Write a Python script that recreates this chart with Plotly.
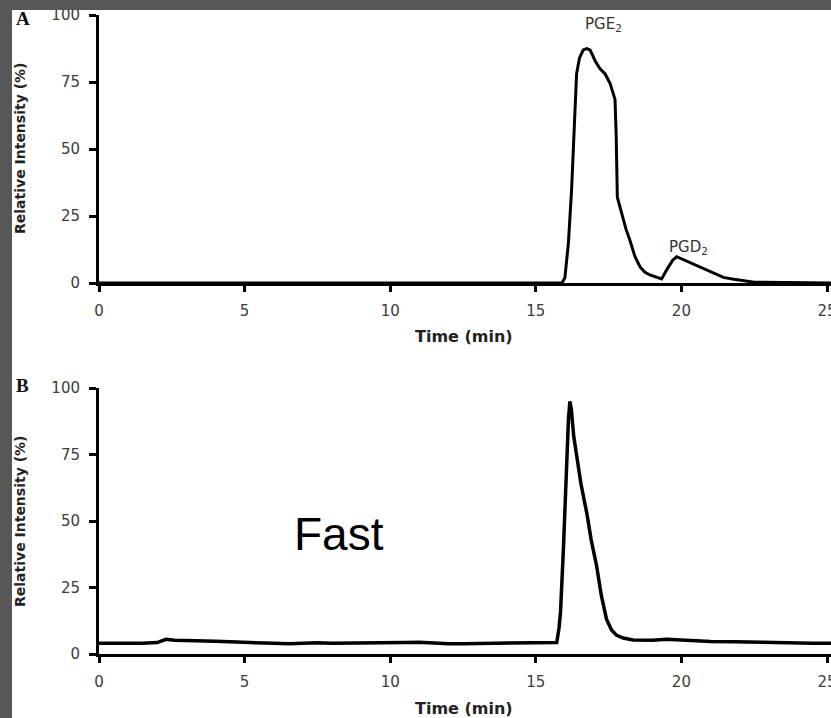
import plotly.graph_objects as go

# ---- Panel A data (PGE2 / PGD2 chromatogram) ----
a_time = [0, 15.9, 16.0, 16.12, 16.23, 16.32, 16.4, 16.5, 16.63, 16.75, 16.86, 16.95,
          17.03, 17.2, 17.38, 17.55, 17.72, 17.76, 17.8, 17.95, 18.1, 18.23, 18.4,
          18.58, 18.75, 18.92, 19.1, 19.32, 19.5, 19.7, 19.84, 20.0, 20.3, 20.64,
          21.0, 21.44, 21.8, 22.13, 22.5, 25.14]
a_int = [0, 0, 2, 15, 35, 60, 78, 84, 87, 87.5, 87, 85,
         83, 80, 78, 74.5, 68.5, 55, 32, 26, 20, 16, 10,
         6, 4, 3, 2.2, 1.5, 5, 8.5, 9.8, 9, 7.6, 6,
         4.2, 2.1, 1.4, 1, 0.3, 0]

# ---- Panel B data (SEP chromatogram) ----
b_time = [0, 0.5, 1.0, 1.5, 2.0, 2.3, 2.6, 3.0, 3.5, 4.0, 4.5, 5.0, 5.5, 6.0, 6.5,
          7.0, 7.5, 8.0, 8.5, 9.0, 9.5, 10.0, 10.5, 11.0, 11.5, 12.0, 12.5, 13.0,
          13.5, 14.0, 14.5, 15.0, 15.5, 15.72, 15.8, 15.85, 15.95, 16.06, 16.12,
          16.17, 16.22, 16.3, 16.4, 16.55, 16.75, 16.9, 17.09, 17.25, 17.43, 17.6,
          17.78, 18.0, 18.34, 19.0, 19.5, 20.0, 20.5, 21.0, 21.8, 22.5, 23.0, 23.5,
          24.0, 24.5, 25.14]
b_int = [4.0, 4.0, 3.9, 4.0, 4.3, 5.5, 5.2, 5.0, 4.9, 4.8, 4.6, 4.3, 4.1, 4.0, 3.9,
         4.1, 4.2, 4.0, 4.0, 4.1, 4.0, 4.1, 4.3, 4.4, 4.0, 3.9, 3.9, 4.0,
         4.0, 4.0, 4.1, 4.1, 4.2, 4.3, 10, 16, 40, 73, 88,
         95, 92, 82, 75, 64, 53, 43, 33, 22, 13, 9,
         7, 6, 5.3, 5.2, 5.5, 5.2, 4.9, 4.7, 4.6, 4.4, 4.2, 4.3,
         4.1, 4.0, 4.0]

x_ticks = [0, 5, 10, 15, 20, 25]
y_ticks = [0, 25, 50, 75, 100]
y_title = "Relative Intensity (%)"
x_title = "Time (min)"

W, H = 831, 718
L, R, T, B = 99, 0, 15, 64
pw, ph = W - L - R, H - T - B


def px2paper(px, py):
    return (px - L) / pw, (H - B - py) / ph


fig = go.Figure()
fig.add_trace(go.Scatter(x=a_time, y=a_int, mode="lines", xaxis="x", yaxis="y",
                         line=dict(color="black", width=3), showlegend=False))
fig.add_trace(go.Scatter(x=b_time, y=b_int, mode="lines", xaxis="x2", yaxis="y2",
                         line=dict(color="black", width=3.5), showlegend=False))

tickfont = dict(family="DejaVu Sans", size=15, color="#3c3c3c")
common_x = dict(range=[0, 25.137], tickvals=x_ticks, showline=True, linecolor="black",
                linewidth=3, ticks="outside", ticklen=6, tickwidth=2.5, tickcolor="black",
                showgrid=False, zeroline=False, tickfont=tickfont, ticklabelstandoff=6,
                ticklabeloverflow="allow", automargin=False)
common_y = dict(range=[0, 100], tickvals=y_ticks, showline=True, linecolor="black",
                linewidth=3, ticks="outside", ticklen=7, tickwidth=2.5, tickcolor="black",
                showgrid=False, zeroline=False, tickfont=tickfont, ticklabelstandoff=6,
                automargin=False)

ya_bot = (H - B - 283) / ph
yb_top = (H - B - 388) / ph

fig.update_layout(
    width=W, height=H, autosize=False,
    margin=dict(l=L, r=R, t=T, b=B, autoexpand=False),
    paper_bgcolor="#575757",
    plot_bgcolor="white",
    xaxis=dict(anchor="y", **common_x),
    yaxis=dict(anchor="x", domain=[ya_bot, 1.0], **common_y),
    xaxis2=dict(anchor="y2", **common_x),
    yaxis2=dict(anchor="x2", domain=[0, yb_top], **common_y),
)

x0, y0 = px2paper(12, 718)
x1, y1 = px2paper(831, 10)
fig.add_shape(type="rect", xref="paper", yref="paper", x0=x0, x1=x1, y0=y0, y1=y1,
              fillcolor="white", line=dict(width=0), layer="below")
# top textured strip partly covering the top tick label
sx0, sy0 = px2paper(0, 10)
sx1, sy1 = px2paper(831, 0)
fig.add_shape(type="rect", xref="paper", yref="paper", x0=sx0, x1=sx1, y0=sy0, y1=sy1,
              fillcolor="#575757", line=dict(width=0), layer="above")

title_font = dict(family="DejaVu Sans", size=14, color="#222222")
ann = []
for (px, py) in [(20, 148), (20, 521)]:
    xp, yp = px2paper(px, py)
    ann.append(dict(text="<b>" + y_title + "</b>", x=xp, y=yp, xref="paper", yref="paper",
                    textangle=-90, showarrow=False, font=title_font,
                    xanchor="center", yanchor="middle"))
for (px, py) in [(464, 337), (464, 709)]:
    xp, yp = px2paper(px, py)
    ann.append(dict(text="<b>" + x_title + "</b>", x=xp, y=yp, xref="paper", yref="paper",
                    showarrow=False, font=dict(family="DejaVu Sans", size=16, color="#222222"),
                    xanchor="center", yanchor="middle"))
for (lbl, px, py) in [("A", 23, 19), ("B", 22, 386)]:
    xp, yp = px2paper(px, py)
    ann.append(dict(text="<b>" + lbl + "</b>", x=xp, y=yp, xref="paper", yref="paper",
                    showarrow=False, font=dict(family="Liberation Serif", size=19, color="#111111"),
                    xanchor="center", yanchor="middle"))

peak_font = dict(family="DejaVu Sans", size=15, color="#333333")
ann.append(dict(text="PGE<sub>2</sub>", x=17.31, y=96.3, xref="x", yref="y",
                showarrow=False, font=peak_font, xanchor="center", yanchor="middle"))
ann.append(dict(text="PGD<sub>2</sub>", x=20.24, y=13.4, xref="x", yref="y",
                showarrow=False, font=peak_font, xanchor="center", yanchor="middle"))
ann.append(dict(text="SEP", x=16.52, y=101.9, xref="x2", yref="y2",
                showarrow=False, font=peak_font, xanchor="center", yanchor="middle"))
ann.append(dict(text="Fast", x=8.24, y=45, xref="x2", yref="y2",
                showarrow=False, font=dict(family="Liberation Sans", size=46, color="black"),
                xanchor="center", yanchor="middle"))
fig.update_layout(annotations=ann)

fig.write_html(
    "out.html",
    config={"displayModeBar": False, "responsive": False},
    post_script=(
        "var gd=document.getElementById('{plot_id}');"
        "gd.style.overflow='hidden';gd.style.width='831px';"
        "document.documentElement.style.overflow='hidden';"
        "document.body.style.margin='0';document.body.style.overflow='hidden';"
    ),
)
